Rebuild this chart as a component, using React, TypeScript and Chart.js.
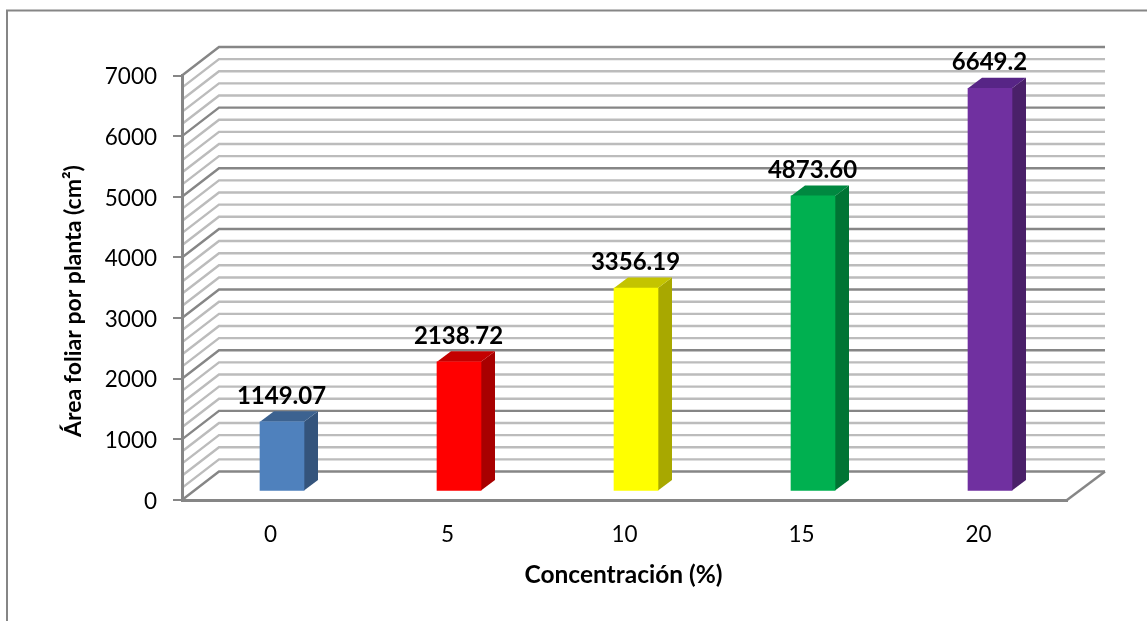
import React, { useEffect, useRef } from "react";
import { Chart, registerables } from "chart.js";

Chart.register(...registerables);

const categories = ["0", "5", "10", "15", "20"];
const areaValues = [1149.07, 2138.72, 3356.19, 4873.6, 6649.2];
const valueLabels = ["1149.07", "2138.72", "3356.19", "4873.60", "6649.2"];
const frontColors = ["#4f81bd", "#ff0000", "#ffff00", "#00b050", "#7030a0"];
const sideColors = ["#34547c", "#a80000", "#a8a800", "#007434", "#4a2069"];
const topColors = ["#3c6290", "#c40000", "#c4c400", "#008840", "#572586"];
const xTitle = "Concentración (%)";
const yTitle = "Área foliar por planta (cm²)";

const FONT = "Lato, Carlito, sans-serif";
const MAJOR = "#868686";
const MINOR = "#bcbcbc";

// Offsets of the 3D box: back wall relative to the front, bars inside the depth, bar depth.
const WALL_DX = 37;
const WALL_DY = -28.5;
const BAR_DX = 11.5;
const BAR_DY = -8.5;
const DEPTH_DX = 14;
const DEPTH_DY = -10.5;
const MINOR_STEP = 200;
const MAJOR_STEP = 1000;

function line(ctx: CanvasRenderingContext2D, pts: number[][], color: string, width: number) {
  ctx.strokeStyle = color;
  ctx.lineWidth = width;
  ctx.beginPath();
  pts.forEach(([x, y], i) => (i ? ctx.lineTo(x, y) : ctx.moveTo(x, y)));
  ctx.stroke();
}

function face(ctx: CanvasRenderingContext2D, pts: number[][], color: string) {
  ctx.fillStyle = color;
  ctx.beginPath();
  pts.forEach(([x, y], i) => (i ? ctx.lineTo(x, y) : ctx.moveTo(x, y)));
  ctx.closePath();
  ctx.fill();
}

const boxPlugin = {
  id: "box3d",
  beforeDraw(chart: any) {
    const { ctx, chartArea, scales, width } = chart;
    const { left, right, bottom } = chartArea;
    ctx.save();
    ctx.fillStyle = "#ffffff";
    ctx.fillRect(0, 0, width, chart.height);
    // Outer frame of the chart; it runs off the right and bottom edges.
    line(ctx, [[7, 640], [7, 10.5], [width + 5, 10.5]], MAJOR, 2);

    const y = scales.y;
    // Minor lines first so that the darker major lines sit on top of them.
    for (const major of [false, true]) {
      for (let v = y.min; v <= y.max; v += MINOR_STEP) {
        const isMajor = v % MAJOR_STEP === 0;
        if (isMajor !== major) continue;
        const py = y.getPixelForValue(v);
        line(
          ctx,
          [[left, py], [left + WALL_DX, py + WALL_DY], [right + WALL_DX + 1, py + WALL_DY]],
          isMajor ? MAJOR : MINOR,
          2.4,
        );
      }
    }
    // Floor edge on the right.
    line(ctx, [[right, bottom], [right + WALL_DX + 1, bottom + WALL_DY]], MAJOR, 2.4);
    ctx.restore();
  },
  beforeDatasetsDraw(chart: any) {
    const { ctx } = chart;
    ctx.save();
    ctx.translate(BAR_DX, BAR_DY);
    const bars = chart.getDatasetMeta(0).data;
    bars.forEach((bar: any, i: number) => {
      const half = bar.width / 2;
      const l = bar.x - half;
      const r = bar.x + half;
      face(ctx, [[r, bar.y], [r + DEPTH_DX, bar.y + DEPTH_DY], [r + DEPTH_DX, bar.base + DEPTH_DY], [r, bar.base]], sideColors[i]);
      face(ctx, [[l, bar.y], [l + DEPTH_DX, bar.y + DEPTH_DY], [r + DEPTH_DX, bar.y + DEPTH_DY], [r, bar.y]], topColors[i]);
    });
  },
  afterDatasetsDraw(chart: any) {
    const { ctx } = chart;
    ctx.restore();
    const bars = chart.getDatasetMeta(0).data;
    ctx.save();
    ctx.fillStyle = "#000000";
    ctx.font = `bold 24px ${FONT}`;
    ctx.textAlign = "center";
    ctx.textBaseline = "middle";
    bars.forEach((bar: any, i: number) => {
      ctx.fillText(valueLabels[i], bar.x + BAR_DX - 0.5, bar.y + BAR_DY - 26);
    });
    ctx.restore();
  },
  afterDraw(chart: any) {
    const { ctx } = chart;
    ctx.save();
    ctx.fillStyle = "#000000";
    ctx.font = `bold 24.5px ${FONT}`;
    ctx.textAlign = "center";
    ctx.textBaseline = "middle";
    ctx.fillText(xTitle, 623.5, 575);
    ctx.translate(74, 301);
    ctx.rotate(-Math.PI / 2);
    ctx.font = `bold 23px ${FONT}`;
    ctx.fillText(yTitle, 0, 0);
    ctx.restore();
  },
};

export default function App() {
  const canvasRef = useRef<HTMLCanvasElement | null>(null);

  useEffect(() => {
    const chart = new Chart(canvasRef.current as HTMLCanvasElement, {
      type: "bar",
      data: {
        labels: categories,
        datasets: [
          {
            data: areaValues,
            backgroundColor: frontColors,
            barThickness: 44,
            clip: false,
          } as any,
        ],
      },
      plugins: [boxPlugin],
      options: {
        responsive: false,
        animation: false,
        devicePixelRatio: 1,
        layout: { padding: { left: 0, top: 75.5, right: 80, bottom: 0 } },
        plugins: { legend: { display: false }, tooltip: { enabled: false }, title: { display: false } },
        scales: {
          x: {
            grid: { display: false },
            border: { color: MAJOR, width: 3 },
            ticks: { color: "#000000", font: { family: FONT, size: 22.5 }, padding: 13, maxRotation: 0 },
            afterFit(scale: any) {
              scale.height = 121;
            },
          },
          y: {
            min: 0,
            max: 7000,
            grid: { drawOnChartArea: false, drawTicks: true, tickLength: 9, color: MAJOR, lineWidth: 2 },
            border: { color: MAJOR, width: 3 },
            ticks: {
              stepSize: MAJOR_STEP,
              color: "#000000",
              font: { family: FONT, size: 22.5 },
              padding: 16,
              labelOffset: 1.5,
              callback: (v: number) => String(v),
            },
            afterFit(scale: any) {
              scale.width = 182;
            },
          },
        },
      } as any,
    });
    return () => chart.destroy();
  }, []);

  return (
    <div style={{ position: "absolute", left: 0, top: 0, width: 1147, height: 621, overflow: "hidden", background: "#fff" }}>
      <canvas ref={canvasRef} width={1147} height={621} style={{ display: "block" }} />
    </div>
  );
}
